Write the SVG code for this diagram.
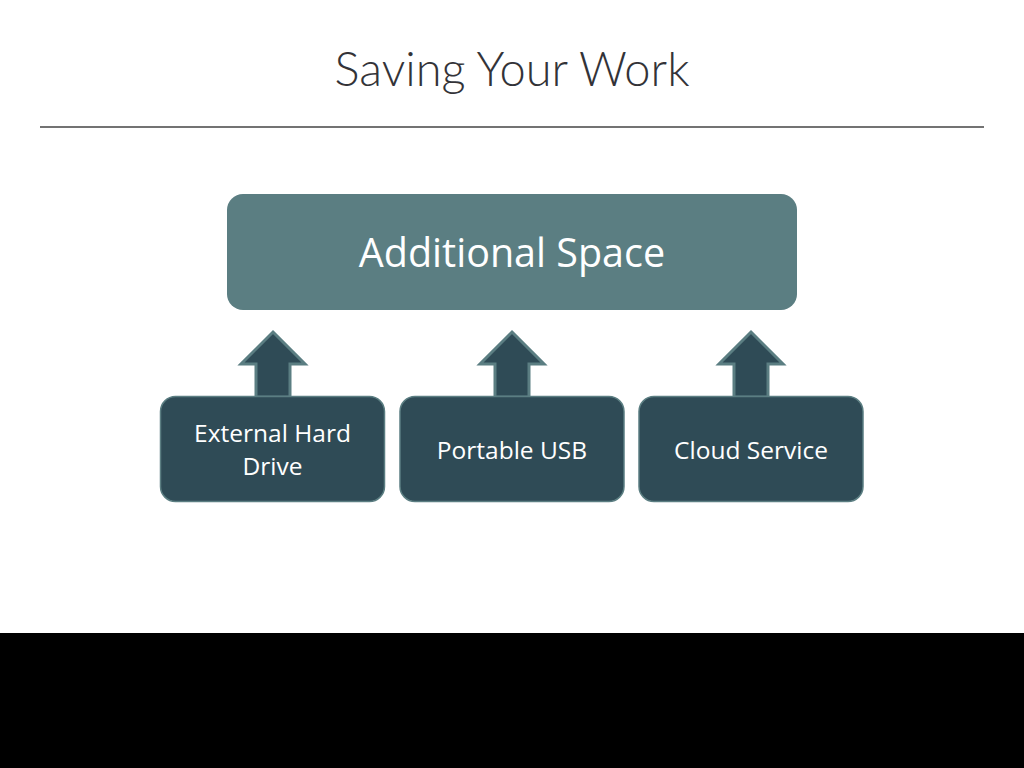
<svg xmlns="http://www.w3.org/2000/svg" width="1024" height="768" viewBox="0 0 1024 768">
<defs>
<style>
.top{fill:#5b7e82;}
.box{fill:#2f4b56;stroke:#5b7e82;stroke-width:1.5;}
.arrow{fill:#2f4b56;stroke:#5b7e82;stroke-width:3;stroke-linejoin:miter;}
.lbl{font-family:"Open Sans","Liberation Sans",sans-serif;fill:#ffffff;text-anchor:middle;}
.title{font-family:"Lato","Liberation Sans",sans-serif;font-weight:300;fill:#333338;text-anchor:middle;}
</style>
</defs>
<rect x="0" y="0" width="1024" height="768" fill="#ffffff"/>
<text class="title" x="512" y="86" font-size="47">Saving Your Work</text>
<line x1="40" y1="127" x2="984" y2="127" stroke="#444444" stroke-width="1.5"/>
<g id="connectors">
<path class="arrow" d="M273,332 L305,364 L290,364 L290,397 L256,397 L256,364 L241,364 Z"/>
<path class="arrow" d="M512,332 L544,364 L529,364 L529,397 L495,397 L495,364 L480,364 Z"/>
<path class="arrow" d="M751,332 L783,364 L768,364 L768,397 L734,397 L734,364 L719,364 Z"/>
</g>
<g id="node-additional-space">
<rect class="top" x="227" y="194" width="570" height="116" rx="16"/>
<text class="lbl" x="512" y="267" font-size="39.5">Additional Space</text>
</g>
<g id="node-external-hard-drive">
<rect class="box" x="160.5" y="396.5" width="224" height="105" rx="15"/>
<text class="lbl" x="272.5" y="442" font-size="24.5">External Hard</text>
<text class="lbl" x="272.5" y="475" font-size="24.5">Drive</text>
</g>
<g id="node-portable-usb">
<rect class="box" x="400" y="396.5" width="224" height="105" rx="15"/>
<text class="lbl" x="512" y="459" font-size="24.5">Portable USB</text>
</g>
<g id="node-cloud-service">
<rect class="box" x="639" y="396.5" width="224" height="105" rx="15"/>
<text class="lbl" x="751" y="459" font-size="24.5">Cloud Service</text>
</g>
<rect x="0" y="633" width="1024" height="135" fill="#000000"/>
</svg>
